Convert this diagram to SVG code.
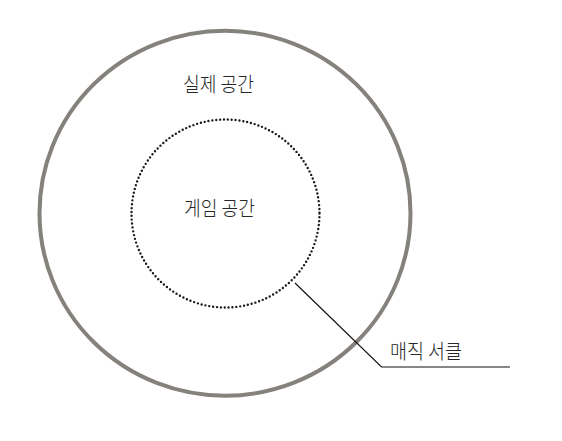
<svg xmlns="http://www.w3.org/2000/svg" width="562" height="441" viewBox="0 0 562 441">
<style>
.lbl{font-family:"Noto Sans CJK KR","Noto Sans CJK SC",sans-serif;font-size:20.5px;font-weight:300;fill:#262626}
.outer{fill:none;stroke:#85817c;stroke-width:4}
.inner{fill:none;stroke:#1a1a1a;stroke-width:2.4;stroke-linecap:round;stroke-dasharray:0 3.9}
.lead{fill:none;stroke:#111;stroke-width:1.2}
</style>
<rect width="562" height="441" fill="#fff"/>
<g id="real-space">
<ellipse class="outer" cx="225" cy="213.2" rx="185.5" ry="182.5"/>
<text class="lbl" x="183" y="91.5" textLength="71" lengthAdjust="spacingAndGlyphs">실제 공간</text>
</g>
<g id="game-space">
<circle class="inner" cx="225.5" cy="213.5" r="94"/>
<text class="lbl" x="184" y="216" textLength="71" lengthAdjust="spacingAndGlyphs">게임 공간</text>
</g>
<g id="magic-circle-label">
<text class="lbl" x="390" y="359" textLength="72" lengthAdjust="spacingAndGlyphs">매직 서클</text>
</g>
<g id="connectors">
<polyline class="lead" points="295,283 381.5,367 510,367"/>
</g>
</svg>
